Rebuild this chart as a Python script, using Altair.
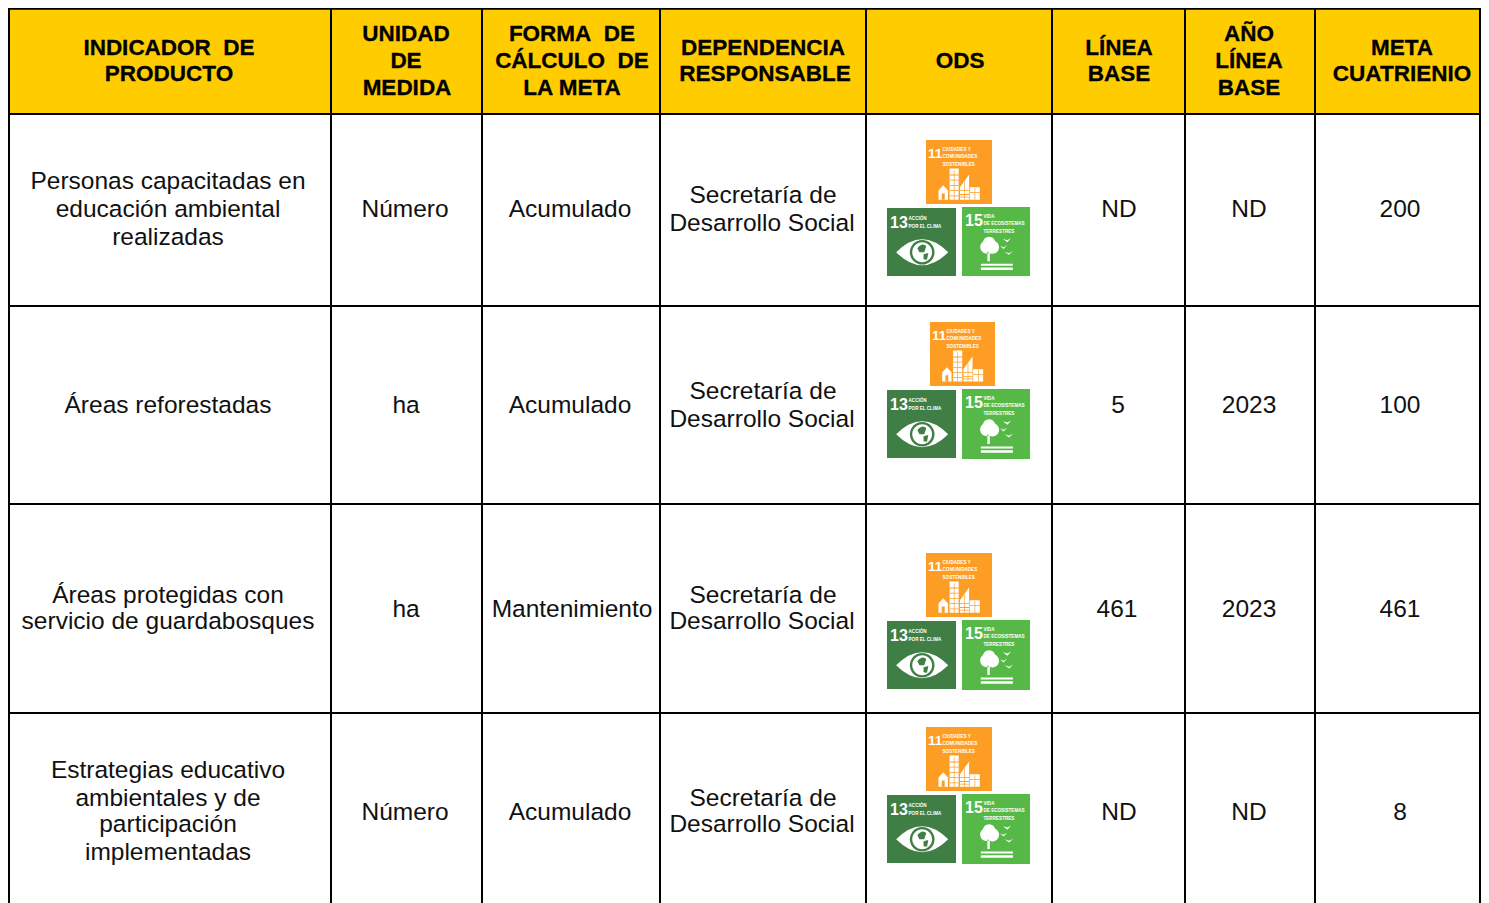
import altair as alt
import pandas as pd

# ---- table structure (page pixels)
col_edges = [9, 331, 482, 660, 866, 1052, 1185, 1315, 1480]
row_edges = [8.8, 114, 306, 504, 713, 930]
OX, OY, W, H = 8, 8, 1473, 895

HEADER_FILL = "#FFCC00"
BODY_FONT = "Liberation Sans"

# ---- header text: (text, centre x, baseline y)
header_text = ["INDICADOR\u00a0\u00a0DE", "PRODUCTO", "UNIDAD", "DE", "MEDIDA", "FORMA\u00a0\u00a0DE",
               "CÁLCULO\u00a0\u00a0DE", "LA META",
               "DEPENDENCIA", "RESPONSABLE", "ODS", "LÍNEA", "BASE", "AÑO", "LÍNEA", "BASE", "META", "CUATRIENIO"]
header_x = [169, 169, 406, 406, 407, 572, 572, 572, 763, 765, 960, 1119, 1119, 1249, 1249, 1249, 1402, 1402]
header_y = [55, 81, 41, 68, 95, 41, 68, 95, 55, 81, 68, 55, 81, 41, 68, 95, 55, 81]

# ---- body text
body_text = ["Personas capacitadas en", "educación ambiental", "realizadas", "Número", "Acumulado", "Secretaría de",
             "Desarrollo Social", "ND", "ND", "200",
             "Áreas reforestadas", "ha", "Acumulado", "Secretaría de", "Desarrollo Social", "5", "2023", "100",
             "Áreas protegidas con", "servicio de guardabosques", "ha", "Mantenimiento", "Secretaría de",
             "Desarrollo Social", "461", "2023", "461",
             "Estrategias educativo", "ambientales y de", "participación", "implementadas", "Número", "Acumulado",
             "Secretaría de", "Desarrollo Social", "ND", "ND", "8"]
body_x = [168, 168, 168, 405, 570, 763, 762, 1119, 1249, 1400,
          168, 406, 570, 763, 762, 1118, 1249, 1400,
          168, 168, 406, 572, 763, 762, 1117, 1249, 1400,
          168, 168, 168, 168, 405, 570, 763, 762, 1119, 1249, 1400]
body_y = [189, 217, 245, 217, 217, 203, 231, 217, 217, 217,
          413, 413, 413, 399, 427, 413, 413, 413,
          603, 629, 617, 617, 603, 629, 617, 617, 617,
          778, 806, 832, 860, 820, 820, 806, 832, 820, 820, 820]

# ---- SDG tiles: goal, left, top, right, bottom
tile_goal = [11, 13, 15, 11, 13, 15, 11, 13, 15, 11, 13, 15]
tile_x0 = [926, 887, 962, 930, 887, 962, 926, 887, 962, 926, 887, 962]
tile_y0 = [140, 208, 207, 322, 390, 389, 553, 621, 620, 727, 795, 794]
tile_x1 = [992, 956, 1030, 995, 956, 1030, 992, 956, 1030, 992, 956, 1030]
tile_y1 = [204, 276, 276, 386, 458, 459, 617, 689, 690, 791, 863, 864]
goal_color = {11: "#FD9D24", 13: "#3F7E44", 15: "#56B947"}

# ---- SDG tile captions: goal, text, dx, dy, size
cap_goal = [11, 11, 11, 11, 13, 13, 13, 15, 15, 15, 15]
cap_text = ["11", "CIUDADES Y", "COMUNIDADES", "SOSTENIBLES", "13", "ACCIÓN", "POR EL CLIMA",
            "15", "VIDA", "DE ECOSISTEMAS", "TERRESTRES"]
cap_dx = [2, 16.5, 16.5, 16.5, 3, 21.5, 21.5, 3, 21.5, 21.5, 21.5]
cap_dy = [18, 10.5, 18, 25.5, 19.5, 11.5, 19.5, 19, 10.5, 18, 25.5]
cap_size = [13.5, 4.6, 4.6, 4.6, 16, 4.6, 4.6, 16, 4.6, 4.6, 4.6]


# ---- SDG pictograms, drawn in tile-normalised symbol space [-1, 1]
def box(x0, y0, x1, y1):
    return f"M{x0} {y0}H{x1}V{y1}H{x0}Z"


def disc(x, y, r):
    return f"M{x-r} {y}A{r} {r} 0 1 0 {x+r} {y}A{r} {r} 0 1 0 {x-r} {y}Z"


white = "#FFFFFF"
city = ("M-.63 .85V.57L-.485 .41L-.34 .57V.85Z" + box(-.29, -.11, -.01, .85)
        + "M.03 .85V.47L.31 .08V.85Z" + box(.33, .47, .64, .85))
windows = (box(-.16, -.05, -.14, .85) + "".join(box(-.29, y, -.01, y + .025) for y in [.08, .24, .4, .56, .72])
           + box(.16, .3, .18, .85) + "".join(box(.03, y, .31, y + .025) for y in [.56, .68, .76])
           + box(.48, .5, .5, .85) + box(.33, .62, .64, .645)
           + box(-.53, .66, -.44, .85))
eye = "M-.74 .30Q.02 -.46 .78 .30Q.02 1.06 -.74 .30Z"
globe_land = "M-.12 .18Q.02 .0 .14 .12L.08 .3L-.06 .3Z" + "M.06 .36L.2 .32L.16 .52L.06 .5Z"
tree = (disc(-.27, .16, .19) + disc(-.2, .04, .18) + disc(-.1, .17, .19) + box(-.25, .25, -.18, .58)
        + box(-.44, .65, .49, .71) + box(-.44, .76, .49, .83))
birds = ("M.12 .13L.22 .17L.32 .11L.22 .22Z" + "M.2 -.08L.33 -.04L.44 -.1L.33 .02Z" + "M.25 .3L.38 .34L.49 .28L.38 .39Z")

glyph_goal = [11, 11, 13, 13, 13, 13, 15, 15]
glyph_path = [city, windows, eye, disc(.02, .30, .36), disc(.02, .30, .29), globe_land, tree, birds]
glyph_fill = [white, goal_color[11], white, goal_color[13], white, goal_color[13], white, white]
glyph_rank = [0, 1, 0, 1, 2, 3, 0, 1]

# ---- assemble frames
tiles = pd.DataFrame({"goal": tile_goal, "x0": tile_x0, "y0": tile_y0, "x1": tile_x1, "y1": tile_y1})
tiles["fill"] = tiles.goal.map(goal_color)
tiles["cx"] = (tiles.x0 + tiles.x1) / 2
tiles["cy"] = (tiles.y0 + tiles.y1) / 2
tiles["sz"] = ((tiles.x1 - tiles.x0) + (tiles.y1 - tiles.y0)) ** 2 / 4
glyphs = tiles.merge(pd.DataFrame({"goal": glyph_goal, "path": glyph_path, "gfill": glyph_fill,
                                   "rank": glyph_rank}), on="goal")
caps = tiles.merge(pd.DataFrame({"goal": cap_goal, "t": cap_text, "dx": cap_dx, "dy": cap_dy,
                                 "s": cap_size}), on="goal")
caps["tx"] = caps.x0 + caps.dx
caps["ty"] = caps.y0 + caps.dy

xs = alt.Scale(domain=[OX, OX + W], nice=False, zero=False)
ys = alt.Scale(domain=[OY + H, OY], nice=False, zero=False)


def X(f):
    return alt.X(f, type="quantitative", scale=xs, axis=None)


def Y(f):
    return alt.Y(f, type="quantitative", scale=ys, axis=None)


band = pd.DataFrame({"x0": [col_edges[0]], "x1": [col_edges[-1]], "y0": [row_edges[0]], "y1": [row_edges[1]]})
header_band = alt.Chart(band).mark_rect(color=HEADER_FILL).encode(x=X("x0"), x2="x1", y=Y("y0"), y2="y1")

vlines = pd.DataFrame({"x": col_edges})
v = alt.Chart(vlines).mark_rule(color="#000000", strokeWidth=2).encode(
    x=X("x"), y=alt.value(0), y2=alt.value(H))
hlines = pd.DataFrame({"y": row_edges[:-1], "x0": col_edges[0] - 1, "x1": col_edges[-1] + 1})
h = alt.Chart(hlines).mark_rule(color="#000000", strokeWidth=2).encode(y=Y("y"), x=X("x0"), x2="x1")

tile_rects = alt.Chart(tiles).mark_rect().encode(
    x=X("x0"), x2="x1", y=Y("y0"), y2="y1", color=alt.Color("fill:N", scale=None))
glyph_marks = alt.Chart(glyphs).mark_point(filled=True, opacity=1, strokeWidth=0).encode(
    x=X("cx"), y=Y("cy"),
    size=alt.Size("sz:Q", scale=None),
    shape=alt.Shape("path:N", scale=None),
    color=alt.Color("gfill:N", scale=None),
    order=alt.Order("rank:Q"))
cap_marks = alt.Chart(caps).mark_text(align="left", baseline="alphabetic", color="#FFFFFF",
                                      font=BODY_FONT, fontWeight="bold").encode(
    x=X("tx"), y=Y("ty"), text="t:N", size=alt.Size("s:Q", scale=None))

head = alt.Chart(pd.DataFrame({"t": header_text, "x": header_x, "y": header_y})).mark_text(
    font=BODY_FONT, fontWeight="bold", fontSize=22.5, align="center", baseline="alphabetic", color="#000000",
    stroke="#000000", strokeWidth=0.3
).encode(x=X("x"), y=Y("y"), text="t:N")
body = alt.Chart(pd.DataFrame({"t": body_text, "x": body_x, "y": body_y})).mark_text(
    font=BODY_FONT, fontSize=24.5, align="center", baseline="alphabetic", color="#111111"
).encode(x=X("x"), y=Y("y"), text="t:N")

chart = alt.layer(header_band, tile_rects, glyph_marks, cap_marks, v, h, head, body).properties(
    width=W, height=H, padding=0, autosize=alt.AutoSizeParams(type="none"),
    background="#FFFFFF"
).configure_view(stroke=None)

chart.save("out.html", embed_options={"renderer": "svg", "actions": False})
